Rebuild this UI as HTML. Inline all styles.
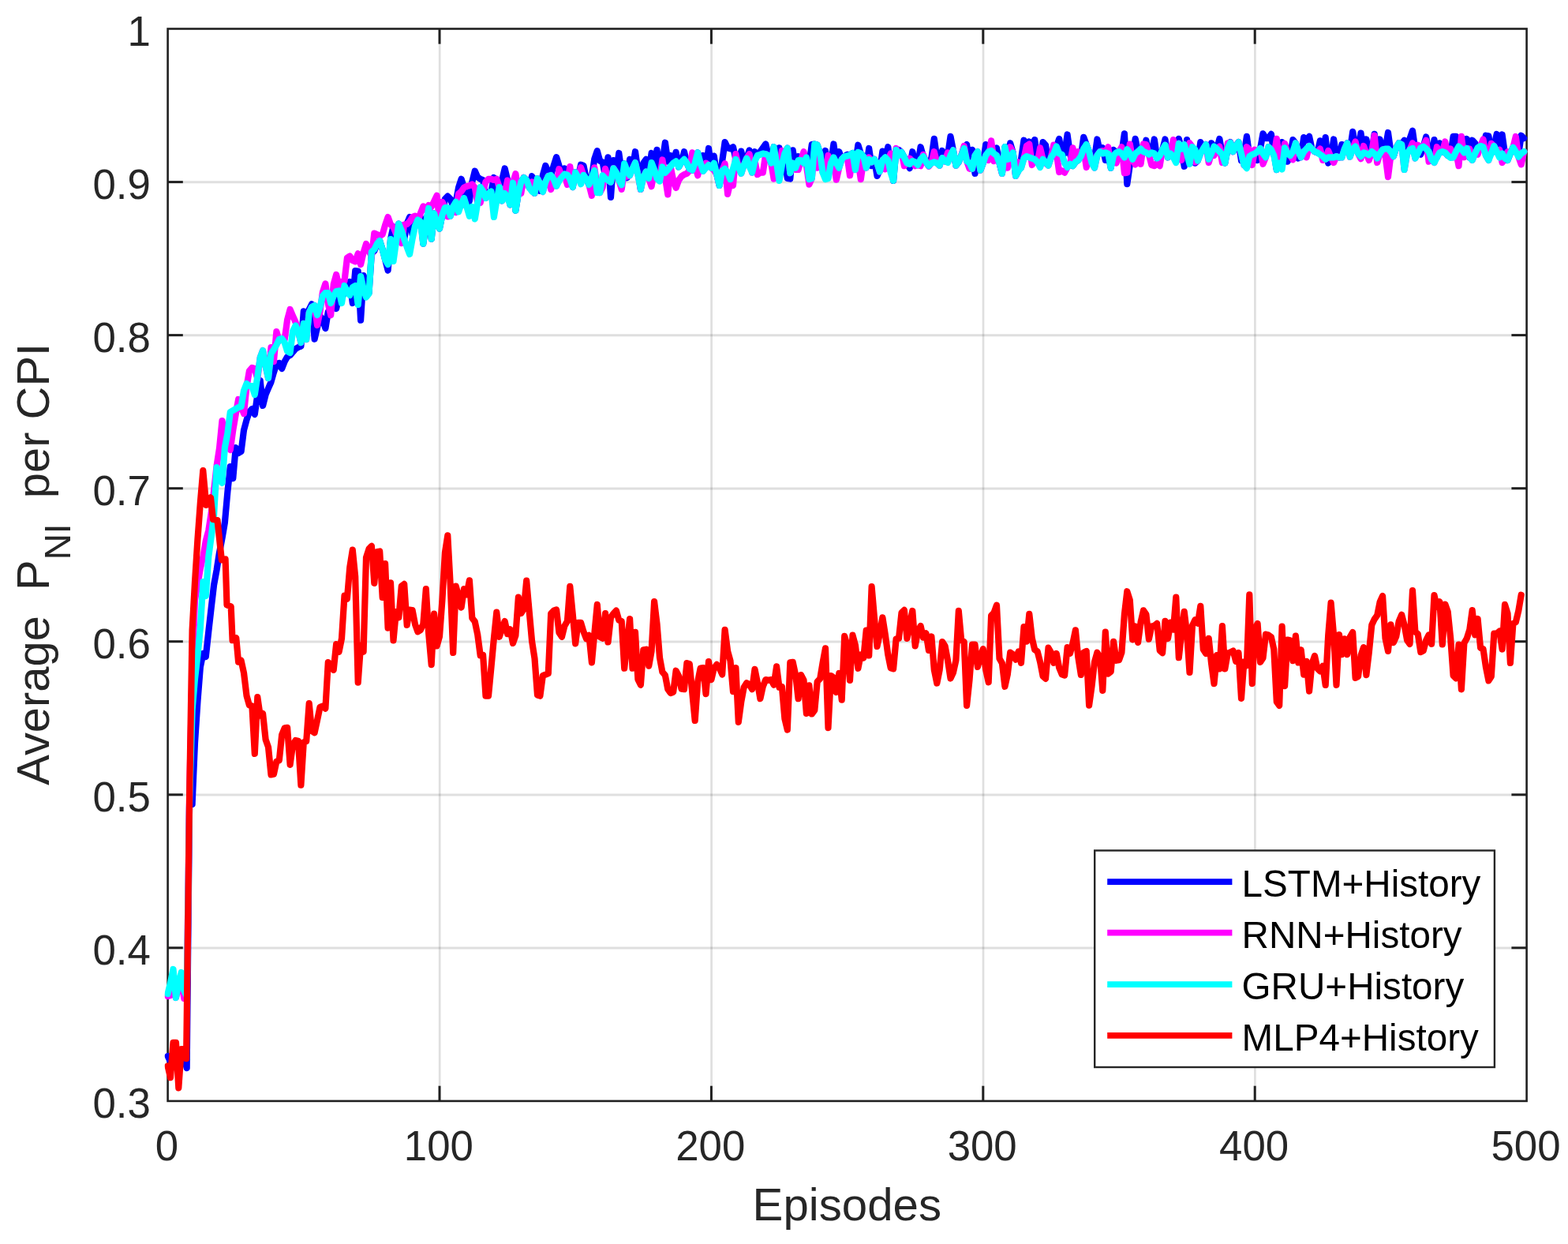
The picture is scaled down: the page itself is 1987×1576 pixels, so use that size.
<!DOCTYPE html>
<html lang="en">
<head>
<meta charset="utf-8">
<title>Average P_NI per CPI vs Episodes</title>
<style>
html,body{margin:0;padding:0;background:#fff;}
body{width:1987px;height:1576px;overflow:hidden;font-family:"Liberation Sans",Arial,Helvetica,sans-serif;}
svg{display:block;}
</style>
</head>
<body>
<svg width="1987" height="1576" viewBox="0 0 1987 1576" font-family="'Liberation Sans', Arial, Helvetica, sans-serif"><defs><clipPath id="clip"><rect x="208.6" y="36.5" width="1730.0" height="1358.4"/></clipPath></defs>
<rect x="0" y="0" width="1987" height="1576" fill="#fff"/>
<g stroke="#262626" stroke-opacity="0.148" stroke-width="2.7"><line x1="557.2" y1="36.5" x2="557.2" y2="1394.9"/><line x1="901.6" y1="36.5" x2="901.6" y2="1394.9"/><line x1="1246.0" y1="36.5" x2="1246.0" y2="1394.9"/><line x1="1590.4" y1="36.5" x2="1590.4" y2="1394.9"/></g>
<g stroke="#262626" stroke-opacity="0.148" stroke-width="3.0"><line x1="212.6" y1="1201.0" x2="1934.6" y2="1201.0"/><line x1="212.6" y1="1007.0" x2="1934.6" y2="1007.0"/><line x1="212.6" y1="812.9" x2="1934.6" y2="812.9"/><line x1="212.6" y1="618.9" x2="1934.6" y2="618.9"/><line x1="212.6" y1="424.8" x2="1934.6" y2="424.8"/><line x1="212.6" y1="230.8" x2="1934.6" y2="230.8"/></g>
<g stroke="#202020" stroke-width="3.0"><line x1="557.0" y1="1394.9" x2="557.0" y2="1375.7"/><line x1="557.0" y1="36.5" x2="557.0" y2="55.7"/><line x1="901.4" y1="1394.9" x2="901.4" y2="1375.7"/><line x1="901.4" y1="36.5" x2="901.4" y2="55.7"/><line x1="1245.8" y1="1394.9" x2="1245.8" y2="1375.7"/><line x1="1245.8" y1="36.5" x2="1245.8" y2="55.7"/><line x1="1590.2" y1="1394.9" x2="1590.2" y2="1375.7"/><line x1="1590.2" y1="36.5" x2="1590.2" y2="55.7"/><line x1="212.6" y1="1200.8" x2="231.8" y2="1200.8"/><line x1="1934.6" y1="1200.8" x2="1915.4" y2="1200.8"/><line x1="212.6" y1="1006.8" x2="231.8" y2="1006.8"/><line x1="1934.6" y1="1006.8" x2="1915.4" y2="1006.8"/><line x1="212.6" y1="812.7" x2="231.8" y2="812.7"/><line x1="1934.6" y1="812.7" x2="1915.4" y2="812.7"/><line x1="212.6" y1="618.7" x2="231.8" y2="618.7"/><line x1="1934.6" y1="618.7" x2="1915.4" y2="618.7"/><line x1="212.6" y1="424.6" x2="231.8" y2="424.6"/><line x1="1934.6" y1="424.6" x2="1915.4" y2="424.6"/><line x1="212.6" y1="230.6" x2="231.8" y2="230.6"/><line x1="1934.6" y1="230.6" x2="1915.4" y2="230.6"/></g>
<rect x="212.6" y="36.5" width="1722.0" height="1358.4" fill="none" stroke="#202020" stroke-width="2.6"/>
<g clip-path="url(#clip)">
<polyline points="212.6,1338.0 216.0,1345.0 219.5,1335.0 222.9,1335.0 226.4,1345.0 229.8,1335.0 233.3,1340.0 236.7,1353.0 240.2,1005.0 243.6,1019.0 247.0,941.0 250.5,888.0 253.9,845.0 257.4,828.0 260.8,832.0 264.3,800.0 267.7,770.0 271.1,741.0 274.6,722.0 278.0,700.0 281.5,682.0 284.9,662.0 288.4,623.0 291.8,591.0 295.3,606.0 298.7,567.0 302.1,574.0 305.6,572.0 309.0,545.0 312.5,532.0 315.9,522.0 319.4,518.0 322.8,525.0 326.3,500.0 329.7,482.0 333.1,514.0 336.6,500.0 340.0,492.0 343.5,484.0 346.9,472.0 350.4,461.0 353.8,460.0 357.2,467.0 360.7,458.0 364.1,452.0 367.6,450.0 371.0,446.0 374.5,442.0 377.9,440.0 381.4,438.7 384.8,394.4 388.2,398.0 391.7,392.0 395.1,385.3 398.6,429.6 402.0,415.0 405.5,400.0 408.9,405.0 412.4,416.0 415.8,395.0 419.2,390.0 422.7,385.0 426.1,391.0 429.6,375.0 433.0,378.0 436.5,370.0 439.9,365.0 443.3,357.0 446.8,384.0 450.2,343.0 453.7,343.5 457.1,405.7 460.6,349.0 464.0,370.7 467.5,371.0 470.9,321.0 474.3,318.0 477.8,309.0 481.2,305.0 484.7,316.0 488.1,329.0 491.6,342.6 495.0,303.0 498.5,287.0 501.9,307.0 505.3,283.6 508.8,292.0 512.2,303.0 515.7,283.0 519.1,275.0 522.6,297.0 526.0,286.3 529.4,275.1 532.9,275.4 536.3,308.6 539.8,284.0 543.2,264.0 546.7,302.7 550.1,270.3 553.6,283.0 557.0,289.5 560.4,272.7 563.9,252.1 567.3,248.6 570.8,252.1 574.2,261.8 577.7,255.8 581.1,237.6 584.6,226.8 588.0,237.6 591.4,261.8 594.9,254.5 598.3,230.4 601.8,216.6 605.2,224.4 608.7,226.8 612.1,228.0 615.5,250.9 619.0,245.0 622.4,242.5 625.9,225.0 629.3,249.0 632.8,237.1 636.2,228.0 639.7,213.5 643.1,228.0 646.5,259.3 650.0,231.7 653.4,266.6 656.9,244.9 660.3,230.4 663.8,225.0 667.2,228.0 670.7,237.6 674.1,223.2 677.5,244.8 681.0,226.2 684.4,241.8 687.9,221.9 691.3,209.9 694.8,218.3 698.2,222.0 701.6,209.9 705.1,199.1 708.5,209.9 712.0,224.4 715.4,213.5 718.9,221.4 722.3,226.8 725.8,237.0 729.2,218.4 732.6,224.4 736.1,208.7 739.5,209.9 743.0,226.8 746.4,233.9 749.9,224.4 753.3,201.4 756.8,191.2 760.2,203.8 763.6,205.5 767.1,223.4 770.5,199.4 774.0,250.0 777.4,203.1 780.9,218.0 784.3,194.0 787.7,218.0 791.2,207.3 794.6,225.3 798.1,201.9 801.5,213.9 805.0,192.2 808.4,216.2 811.9,239.8 815.3,206.6 818.7,201.8 822.2,218.0 825.6,194.0 829.1,213.8 832.5,189.8 836.0,213.8 839.4,204.7 842.9,180.7 846.3,204.7 849.7,197.0 853.2,206.6 856.6,192.8 860.1,211.4 863.5,205.4 867.0,192.2 870.4,206.6 873.8,213.9 877.3,215.6 880.7,206.6 884.2,193.4 887.6,206.6 891.1,197.0 894.5,212.0 898.0,188.0 901.4,212.0 904.8,197.6 908.3,221.1 911.7,234.9 915.2,204.1 918.6,180.1 922.1,187.3 925.5,188.5 929.0,186.2 932.4,201.9 935.8,211.5 939.3,191.6 942.7,209.0 946.2,200.7 949.6,190.4 953.1,214.4 956.5,192.2 959.9,197.0 963.4,192.1 966.8,187.3 970.3,182.5 973.7,197.0 977.2,206.6 980.6,186.2 984.1,206.6 987.5,187.4 990.9,209.0 994.4,201.9 997.8,225.9 1001.3,226.5 1004.7,190.4 1008.2,212.7 1011.6,198.2 1015.1,203.0 1018.5,206.6 1021.9,199.4 1025.4,207.1 1028.8,183.1 1032.3,182.5 1035.7,183.7 1039.2,194.5 1042.6,215.0 1046.0,191.0 1049.5,215.0 1052.9,206.5 1056.4,182.5 1059.8,206.5 1063.3,192.2 1066.7,201.8 1070.2,198.2 1073.6,195.8 1077.0,196.4 1080.5,194.0 1083.9,207.7 1087.4,183.7 1090.8,194.5 1094.3,198.2 1097.7,212.0 1101.2,188.0 1104.6,210.2 1108.0,201.9 1111.5,222.9 1114.9,215.6 1118.4,191.6 1121.8,199.4 1125.3,186.2 1128.7,210.2 1132.1,228.9 1135.6,189.8 1139.0,189.8 1142.5,192.8 1145.9,199.4 1149.4,206.6 1152.8,213.2 1156.3,192.2 1159.7,205.4 1163.1,209.0 1166.6,186.2 1170.0,198.2 1173.5,205.4 1176.9,210.2 1180.4,199.9 1183.8,175.9 1187.3,199.9 1190.7,209.6 1194.1,191.0 1197.6,204.2 1201.0,196.9 1204.5,172.9 1207.9,190.4 1211.4,209.6 1214.8,205.4 1218.2,197.0 1221.7,188.0 1225.1,183.1 1228.6,206.6 1232.0,189.8 1235.5,219.8 1238.9,195.8 1242.4,215.6 1245.8,206.6 1249.2,183.1 1252.7,192.1 1256.1,191.0 1259.6,194.5 1263.0,187.4 1266.5,206.6 1269.9,219.8 1273.4,186.2 1276.8,201.8 1280.2,181.3 1283.7,193.4 1287.1,222.9 1290.6,216.3 1294.0,201.7 1297.5,177.7 1300.9,198.2 1304.3,179.5 1307.8,200.6 1311.2,177.1 1314.7,201.1 1318.1,204.1 1321.6,180.1 1325.0,183.7 1328.5,207.7 1331.9,199.4 1335.3,194.5 1338.8,185.6 1342.2,175.9 1345.7,195.8 1349.1,194.5 1352.6,170.5 1356.0,194.5 1359.5,210.2 1362.9,205.4 1366.3,203.0 1369.8,197.8 1373.2,173.8 1376.7,183.1 1380.1,192.1 1383.6,206.6 1387.0,200.5 1390.4,176.5 1393.9,192.2 1397.3,187.4 1400.8,202.9 1404.2,194.5 1407.7,212.6 1411.1,189.8 1414.6,193.3 1418.0,192.1 1421.4,193.3 1424.9,169.3 1428.3,233.1 1431.8,209.1 1435.2,199.9 1438.7,175.9 1442.1,192.1 1445.6,188.6 1449.0,192.1 1452.4,177.7 1455.9,195.7 1459.3,193.3 1462.8,176.5 1466.2,200.5 1469.7,197.0 1473.1,189.7 1476.5,176.5 1480.0,199.3 1483.4,194.5 1486.9,199.4 1490.3,199.9 1493.8,175.9 1497.2,188.5 1500.7,210.8 1504.1,177.1 1507.5,201.1 1511.0,186.2 1514.4,206.6 1517.9,203.5 1521.3,180.1 1524.8,188.5 1528.2,183.1 1531.7,201.7 1535.1,181.3 1538.5,185.6 1542.0,188.5 1545.4,175.9 1548.9,195.8 1552.3,206.6 1555.8,188.5 1559.2,180.1 1562.6,192.1 1566.1,184.9 1569.5,180.1 1573.0,203.5 1576.4,196.9 1579.9,172.9 1583.3,196.9 1586.8,195.8 1590.2,194.5 1593.6,202.9 1597.1,188.0 1600.5,169.3 1604.0,175.2 1607.4,175.2 1610.9,169.9 1614.3,193.9 1617.8,215.0 1621.2,204.1 1624.6,180.1 1628.1,187.4 1631.5,204.7 1635.0,197.0 1638.4,177.1 1641.9,181.3 1645.3,200.5 1648.7,198.1 1652.2,174.1 1655.6,177.6 1659.1,172.9 1662.5,188.5 1666.0,192.1 1669.4,193.3 1672.9,178.3 1676.3,198.1 1679.7,174.1 1683.2,206.6 1686.6,199.4 1690.1,176.5 1693.5,198.2 1697.0,199.4 1700.4,183.1 1703.9,188.5 1707.3,181.3 1710.7,190.8 1714.2,166.8 1717.6,185.6 1721.1,192.6 1724.5,168.6 1728.0,192.6 1731.4,176.5 1734.8,196.3 1738.3,192.1 1741.7,169.9 1745.2,193.9 1748.6,176.5 1752.1,189.7 1755.5,188.5 1759.0,168.0 1762.4,192.0 1765.8,198.1 1769.3,187.3 1772.7,181.3 1776.2,183.1 1779.6,177.7 1783.1,194.5 1786.5,175.9 1790.0,165.6 1793.4,189.6 1796.8,194.5 1800.3,195.7 1803.7,185.6 1807.2,173.5 1810.6,192.1 1814.1,201.1 1817.5,177.1 1820.9,199.4 1824.4,181.3 1827.8,192.1 1831.3,193.3 1834.7,197.0 1838.2,196.9 1841.6,172.9 1845.1,172.9 1848.5,185.6 1851.9,188.5 1855.4,193.3 1858.8,175.9 1862.3,199.4 1865.7,177.7 1869.2,181.3 1872.6,187.3 1876.1,185.0 1879.5,186.1 1882.9,171.7 1886.4,172.3 1889.8,194.5 1893.3,185.0 1896.7,169.9 1900.2,193.9 1903.6,170.5 1907.0,194.5 1910.5,202.9 1913.9,194.5 1917.4,186.8 1920.8,192.1 1924.3,195.7 1927.7,171.7 1931.2,175.2" fill="none" stroke="#0000ff" stroke-width="8.2" stroke-linejoin="round" stroke-linecap="round"/>
<polyline points="212.6,1262.0 216.0,1261.0 219.5,1240.0 222.9,1264.0 226.4,1250.0 229.8,1240.0 233.3,1265.0 236.7,1262.0 240.2,1000.0 243.6,850.0 247.0,760.0 250.5,740.0 253.9,720.0 257.4,705.0 260.8,685.0 264.3,672.0 267.7,650.0 271.1,622.0 274.6,590.0 278.0,568.0 281.5,533.0 284.9,550.0 288.4,560.0 291.8,570.0 295.3,545.0 298.7,525.0 302.1,506.0 305.6,515.0 309.0,524.0 312.5,490.0 315.9,470.0 319.4,466.0 322.8,467.0 326.3,480.0 329.7,453.0 333.1,444.0 336.6,464.0 340.0,479.0 343.5,440.0 346.9,458.0 350.4,420.0 353.8,432.0 357.2,429.0 360.7,430.0 364.1,405.0 367.6,392.0 371.0,400.0 374.5,408.0 377.9,420.0 381.4,434.0 384.8,410.0 388.2,430.0 391.7,396.0 395.1,389.0 398.6,387.0 402.0,412.0 405.5,395.0 408.9,370.0 412.4,359.4 415.8,385.0 419.2,399.3 422.7,360.0 426.1,348.0 429.6,362.0 433.0,357.0 436.5,356.0 439.9,326.7 443.3,324.5 446.8,330.0 450.2,331.3 453.7,321.3 457.1,335.0 460.6,320.0 464.0,309.0 467.5,318.0 470.9,325.0 474.3,295.5 477.8,297.0 481.2,299.0 484.7,297.0 488.1,285.0 491.6,275.0 495.0,284.4 498.5,288.0 501.9,296.0 505.3,300.0 508.8,308.0 512.2,284.5 515.7,284.0 519.1,280.8 522.6,275.0 526.0,273.6 529.4,280.0 532.9,270.0 536.3,261.4 539.8,266.0 543.2,260.0 546.7,262.0 550.1,255.0 553.6,247.8 557.0,279.8 560.4,255.8 563.9,263.0 567.3,274.4 570.8,273.8 574.2,261.8 577.7,269.0 581.1,245.6 584.6,242.5 588.0,237.6 591.4,235.9 594.9,235.2 598.3,233.5 601.8,237.6 605.2,257.0 608.7,256.9 612.1,242.5 615.5,230.4 619.0,226.8 622.4,226.8 625.9,228.0 629.3,226.8 632.8,237.1 636.2,254.5 639.7,245.0 643.1,228.6 646.5,252.6 650.0,231.7 653.4,220.2 656.9,244.9 660.3,244.8 663.8,225.0 667.2,228.0 670.7,237.6 674.1,230.4 677.5,244.8 681.0,226.2 684.4,232.8 687.9,243.0 691.3,230.4 694.8,223.1 698.2,240.0 701.6,226.8 705.1,235.8 708.5,214.2 712.0,224.4 715.4,220.7 718.9,233.9 722.3,211.1 725.8,235.1 729.2,218.4 732.6,224.4 736.1,212.3 739.5,222.0 743.0,226.8 746.4,233.9 749.9,247.8 753.3,212.3 756.8,236.3 760.2,244.1 763.6,237.4 767.1,213.9 770.5,228.4 774.0,230.7 777.4,213.3 780.9,218.7 784.3,228.4 787.7,239.8 791.2,215.8 794.6,223.5 798.1,222.3 801.5,213.9 805.0,206.1 808.4,221.1 811.9,239.8 815.3,224.7 818.7,217.6 822.2,225.9 825.6,236.2 829.1,215.1 832.5,226.0 836.0,226.5 839.4,202.5 842.9,224.7 846.3,246.4 849.7,211.4 853.2,228.4 856.6,238.0 860.1,228.4 863.5,223.5 867.0,221.1 870.4,219.9 873.8,216.3 877.3,193.4 880.7,209.0 884.2,222.3 887.6,206.6 891.1,216.8 894.5,206.7 898.0,209.1 901.4,212.6 904.8,215.6 908.3,221.1 911.7,234.9 915.2,216.3 918.6,207.3 922.1,245.8 925.5,230.8 929.0,234.9 932.4,195.2 935.8,211.5 939.3,219.8 942.7,209.0 946.2,200.7 949.6,195.2 953.1,218.6 956.5,204.2 959.9,221.1 963.4,218.7 966.8,218.6 970.3,195.2 973.7,197.0 977.2,206.6 980.6,226.5 984.1,206.6 987.5,215.0 990.9,191.0 994.4,194.5 997.8,187.4 1001.3,219.2 1004.7,206.6 1008.2,215.0 1011.6,215.0 1015.1,203.0 1018.5,192.2 1021.9,209.7 1025.4,233.7 1028.8,226.0 1032.3,188.6 1035.7,212.6 1039.2,194.5 1042.6,218.7 1046.0,221.0 1049.5,197.0 1052.9,206.6 1056.4,203.7 1059.8,227.7 1063.3,212.6 1066.7,201.8 1070.2,198.2 1073.6,198.3 1077.0,222.3 1080.5,198.3 1083.9,215.0 1087.4,203.1 1090.8,227.1 1094.3,203.1 1097.7,212.6 1101.2,199.4 1104.6,205.4 1108.0,201.9 1111.5,206.6 1114.9,217.4 1118.4,203.0 1121.8,214.4 1125.3,203.0 1128.7,194.6 1132.1,212.0 1135.6,188.0 1139.0,197.0 1142.5,192.8 1145.9,210.2 1149.4,206.6 1152.8,200.7 1156.3,204.2 1159.7,210.2 1163.1,209.0 1166.6,210.2 1170.0,195.8 1173.5,205.4 1176.9,210.8 1180.4,206.6 1183.8,192.2 1187.3,206.6 1190.7,209.6 1194.1,200.1 1197.6,204.2 1201.0,193.4 1204.5,197.0 1207.9,190.4 1211.4,209.6 1214.8,205.4 1218.2,197.0 1221.7,185.0 1225.1,204.2 1228.6,213.8 1232.0,213.8 1235.5,197.0 1238.9,192.2 1242.4,215.6 1245.8,206.6 1249.2,197.0 1252.7,202.9 1256.1,178.3 1259.6,204.1 1263.0,197.0 1266.5,206.6 1269.9,219.8 1273.4,188.6 1276.8,212.6 1280.2,186.2 1283.7,193.4 1287.1,222.9 1290.6,205.5 1294.0,212.7 1297.5,200.6 1300.9,184.9 1304.3,182.5 1307.8,209.0 1311.2,201.8 1314.7,205.4 1318.1,187.4 1321.6,201.8 1325.0,206.6 1328.5,209.6 1331.9,199.4 1335.3,183.7 1338.8,194.0 1342.2,218.0 1345.7,216.3 1349.1,218.6 1352.6,212.0 1356.0,207.8 1359.5,187.4 1362.9,205.4 1366.3,192.2 1369.8,198.2 1373.2,188.5 1376.7,212.0 1380.1,192.1 1383.6,206.6 1387.0,212.6 1390.4,197.0 1393.9,192.2 1397.3,191.0 1400.8,193.3 1404.2,186.2 1407.7,210.2 1411.1,197.0 1414.6,206.6 1418.0,192.1 1421.4,186.2 1424.9,219.2 1428.3,218.6 1431.8,182.5 1435.2,201.8 1438.7,208.4 1442.1,192.1 1445.6,207.8 1449.0,182.5 1452.4,183.1 1455.9,195.7 1459.3,209.0 1462.8,210.2 1466.2,206.6 1469.7,210.2 1473.1,189.7 1476.5,183.7 1480.0,199.3 1483.4,194.5 1486.9,177.1 1490.3,201.1 1493.8,181.9 1497.2,202.9 1500.7,183.1 1504.1,194.5 1507.5,181.3 1511.0,186.2 1514.4,205.4 1517.9,203.5 1521.3,194.5 1524.8,188.5 1528.2,183.1 1531.7,206.0 1535.1,194.5 1538.5,196.9 1542.0,188.5 1545.4,185.6 1548.9,206.0 1552.3,205.3 1555.8,181.3 1559.2,180.7 1562.6,192.1 1566.1,184.9 1569.5,180.1 1573.0,194.5 1576.4,209.0 1579.9,186.2 1583.3,189.7 1586.8,209.0 1590.2,189.7 1593.6,192.1 1597.1,188.0 1600.5,207.8 1604.0,199.3 1607.4,186.2 1610.9,189.7 1614.3,197.0 1617.8,175.9 1621.2,199.9 1624.6,205.9 1628.1,181.9 1631.5,194.5 1635.0,197.0 1638.4,202.3 1641.9,181.3 1645.3,192.1 1648.7,199.3 1652.2,192.1 1655.6,199.3 1659.1,185.0 1662.5,188.5 1666.0,192.1 1669.4,193.3 1672.9,188.6 1676.3,202.9 1679.7,201.7 1683.2,191.0 1686.6,199.4 1690.1,206.0 1693.5,198.2 1697.0,199.4 1700.4,199.4 1703.9,188.5 1707.3,181.3 1710.7,198.7 1714.2,188.5 1717.6,179.5 1721.1,194.5 1724.5,201.1 1728.0,185.0 1731.4,194.5 1734.8,202.9 1738.3,192.1 1741.7,171.7 1745.2,206.0 1748.6,194.5 1752.1,189.7 1755.5,197.0 1759.0,224.1 1762.4,197.0 1765.8,198.1 1769.3,187.3 1772.7,181.3 1776.2,183.1 1779.6,215.0 1783.1,194.5 1786.5,189.7 1790.0,181.3 1793.4,200.5 1796.8,183.7 1800.3,187.3 1803.7,185.6 1807.2,177.7 1810.6,204.7 1814.1,201.8 1817.5,206.0 1820.9,186.2 1824.4,193.3 1827.8,192.1 1831.3,179.5 1834.7,197.0 1838.2,188.6 1841.6,199.4 1845.1,192.1 1848.5,210.2 1851.9,172.9 1855.4,199.3 1858.8,188.0 1862.3,188.6 1865.7,202.9 1869.2,194.5 1872.6,195.7 1876.1,185.0 1879.5,176.5 1882.9,197.0 1886.4,202.9 1889.8,181.9 1893.3,185.0 1896.7,192.1 1900.2,189.8 1903.6,206.0 1907.0,200.6 1910.5,192.2 1913.9,194.5 1917.4,186.8 1920.8,172.9 1924.3,198.7 1927.7,208.4 1931.2,192.1" fill="none" stroke="#ff00ff" stroke-width="8.2" stroke-linejoin="round" stroke-linecap="round"/>
<polyline points="212.6,1259.0 216.0,1245.0 219.5,1228.0 222.9,1264.0 226.4,1245.0 229.8,1232.0 233.3,1255.0 236.7,1262.0 240.2,1010.0 243.6,900.0 247.0,860.0 250.5,830.0 253.9,795.0 257.4,737.0 260.8,755.0 264.3,705.0 267.7,680.0 271.1,652.0 274.6,592.0 278.0,602.0 281.5,612.0 284.9,567.0 288.4,549.0 291.8,522.0 295.3,520.0 298.7,518.0 302.1,516.0 305.6,515.0 309.0,495.0 312.5,486.0 315.9,489.0 319.4,489.0 322.8,500.0 326.3,477.0 329.7,453.0 333.1,444.0 336.6,464.0 340.0,479.0 343.5,448.0 346.9,443.0 350.4,437.0 353.8,430.0 357.2,429.0 360.7,434.0 364.1,445.0 367.6,447.0 371.0,420.0 374.5,412.5 377.9,420.0 381.4,434.0 384.8,410.0 388.2,430.0 391.7,396.0 395.1,389.0 398.6,387.0 402.0,399.0 405.5,389.0 408.9,375.0 412.4,371.0 415.8,371.0 419.2,384.0 422.7,375.0 426.1,369.0 429.6,368.5 433.0,384.0 436.5,362.0 439.9,369.0 443.3,374.0 446.8,364.0 450.2,362.0 453.7,386.0 457.1,350.0 460.6,366.0 464.0,376.6 467.5,372.0 470.9,319.0 474.3,316.0 477.8,309.0 481.2,305.0 484.7,316.0 488.1,329.0 491.6,335.0 495.0,303.0 498.5,331.0 501.9,307.0 505.3,283.6 508.8,292.0 512.2,303.0 515.7,313.0 519.1,322.0 522.6,302.6 526.0,286.3 529.4,278.6 532.9,281.0 536.3,308.6 539.8,284.0 543.2,264.0 546.7,302.7 550.1,270.3 553.6,283.0 557.0,289.5 560.4,272.7 563.9,263.0 567.3,263.1 570.8,273.8 574.2,261.8 577.7,255.8 581.1,268.4 584.6,258.2 588.0,251.0 591.4,261.8 594.9,273.8 598.3,261.9 601.8,277.4 605.2,257.0 608.7,237.1 612.1,242.5 615.5,250.9 619.0,245.0 622.4,242.5 625.9,275.0 629.3,254.5 632.8,237.1 636.2,254.5 639.7,245.0 643.1,250.9 646.5,259.3 650.0,231.7 653.4,266.6 656.9,244.9 660.3,230.4 663.8,225.0 667.2,228.0 670.7,237.6 674.1,242.5 677.5,244.8 681.0,226.2 684.4,232.8 687.9,243.0 691.3,230.4 694.8,223.1 698.2,222.0 701.6,226.8 705.1,235.8 708.5,229.2 712.0,224.4 715.4,220.7 718.9,221.4 722.3,226.8 725.8,237.0 729.2,218.4 732.6,224.4 736.1,233.3 739.5,222.0 743.0,226.8 746.4,233.9 749.9,224.4 753.3,216.0 756.8,244.2 760.2,244.1 763.6,222.4 767.1,226.0 770.5,228.4 774.0,230.7 777.4,213.3 780.9,218.7 784.3,228.4 787.7,234.3 791.2,207.3 794.6,216.3 798.1,222.3 801.5,213.9 805.0,206.1 808.4,221.1 811.9,239.8 815.3,224.7 818.7,217.6 822.2,225.9 825.6,206.1 829.1,215.1 832.5,226.0 836.0,229.5 839.4,211.5 842.9,218.7 846.3,215.1 849.7,210.9 853.2,206.6 856.6,204.3 860.1,211.4 863.5,205.4 867.0,201.9 870.4,206.6 873.8,213.9 877.3,215.6 880.7,206.6 884.2,193.4 887.6,206.6 891.1,216.8 894.5,212.7 898.0,209.1 901.4,212.6 904.8,206.7 908.3,221.1 911.7,234.9 915.2,216.3 918.6,213.9 922.1,218.7 925.5,227.1 929.0,213.9 932.4,201.9 935.8,211.5 939.3,219.8 942.7,209.0 946.2,200.7 949.6,210.3 953.1,218.6 956.5,204.2 959.9,197.0 963.4,195.8 966.8,194.5 970.3,195.2 973.7,197.0 977.2,206.6 980.6,186.2 984.1,206.6 987.5,228.9 990.9,209.0 994.4,194.5 997.8,187.4 1001.3,219.2 1004.7,206.6 1008.2,212.7 1011.6,203.1 1015.1,203.0 1018.5,206.6 1021.9,199.4 1025.4,227.1 1028.8,226.0 1032.3,182.5 1035.7,183.7 1039.2,194.5 1042.6,218.7 1046.0,227.1 1049.5,226.0 1052.9,206.6 1056.4,199.4 1059.8,206.6 1063.3,212.6 1066.7,201.8 1070.2,198.2 1073.6,197.6 1077.0,196.4 1080.5,194.0 1083.9,215.0 1087.4,192.8 1090.8,194.5 1094.3,198.2 1097.7,212.6 1101.2,201.9 1104.6,205.4 1108.0,201.9 1111.5,206.6 1114.9,217.4 1118.4,203.0 1121.8,199.4 1125.3,203.0 1128.7,218.7 1132.1,228.9 1135.6,189.8 1139.0,197.0 1142.5,192.8 1145.9,199.4 1149.4,206.6 1152.8,207.8 1156.3,204.2 1159.7,205.4 1163.1,209.0 1166.6,201.8 1170.0,198.2 1173.5,205.4 1176.9,210.2 1180.4,206.6 1183.8,205.4 1187.3,206.6 1190.7,209.6 1194.1,200.1 1197.6,204.2 1201.0,206.0 1204.5,197.0 1207.9,190.4 1211.4,209.6 1214.8,205.4 1218.2,197.0 1221.7,188.0 1225.1,204.2 1228.6,206.6 1232.0,213.8 1235.5,197.0 1238.9,192.2 1242.4,215.6 1245.8,206.6 1249.2,197.0 1252.7,192.1 1256.1,191.0 1259.6,194.5 1263.0,197.0 1266.5,206.6 1269.9,219.8 1273.4,186.2 1276.8,201.8 1280.2,200.6 1283.7,193.4 1287.1,222.9 1290.6,216.3 1294.0,212.7 1297.5,200.6 1300.9,198.2 1304.3,199.4 1307.8,200.6 1311.2,201.8 1314.7,205.4 1318.1,212.0 1321.6,201.8 1325.0,205.4 1328.5,209.6 1331.9,199.4 1335.3,194.5 1338.8,185.6 1342.2,194.5 1345.7,195.8 1349.1,206.6 1352.6,212.0 1356.0,207.8 1359.5,210.2 1362.9,205.4 1366.3,203.0 1369.8,198.2 1373.2,188.5 1376.7,183.1 1380.1,192.1 1383.6,206.6 1387.0,212.6 1390.4,197.0 1393.9,192.2 1397.3,194.5 1400.8,193.3 1404.2,194.5 1407.7,212.6 1411.1,197.0 1414.6,193.3 1418.0,192.1 1421.4,194.5 1424.9,199.4 1428.3,189.2 1431.8,194.5 1435.2,201.8 1438.7,194.5 1442.1,192.1 1445.6,188.6 1449.0,192.1 1452.4,193.3 1455.9,195.7 1459.3,193.3 1462.8,194.5 1466.2,200.5 1469.7,197.0 1473.1,189.7 1476.5,183.7 1480.0,199.3 1483.4,194.5 1486.9,199.4 1490.3,206.0 1493.8,181.9 1497.2,188.5 1500.7,183.1 1504.1,194.5 1507.5,207.8 1511.0,186.2 1514.4,189.7 1517.9,203.5 1521.3,194.5 1524.8,188.5 1528.2,183.1 1531.7,201.7 1535.1,194.5 1538.5,185.6 1542.0,188.5 1545.4,192.1 1548.9,195.8 1552.3,206.6 1555.8,188.5 1559.2,180.7 1562.6,192.1 1566.1,184.9 1569.5,180.1 1573.0,194.5 1576.4,209.0 1579.9,213.2 1583.3,198.2 1586.8,195.8 1590.2,194.5 1593.6,192.1 1597.1,188.0 1600.5,194.5 1604.0,199.3 1607.4,186.2 1610.9,189.7 1614.3,197.0 1617.8,215.0 1621.2,206.6 1624.6,214.4 1628.1,187.4 1631.5,194.5 1635.0,197.0 1638.4,192.1 1641.9,181.3 1645.3,192.1 1648.7,199.3 1652.2,192.1 1655.6,188.5 1659.1,185.0 1662.5,188.5 1666.0,192.1 1669.4,193.3 1672.9,195.8 1676.3,198.2 1679.7,201.7 1683.2,199.4 1686.6,199.4 1690.1,199.4 1693.5,198.2 1697.0,199.4 1700.4,199.4 1703.9,188.5 1707.3,181.3 1710.7,198.7 1714.2,188.5 1717.6,185.6 1721.1,194.5 1724.5,198.1 1728.0,193.3 1731.4,194.5 1734.8,196.3 1738.3,192.1 1741.7,194.5 1745.2,200.5 1748.6,194.5 1752.1,189.7 1755.5,188.5 1759.0,188.5 1762.4,192.1 1765.8,198.1 1769.3,187.3 1772.7,181.3 1776.2,183.1 1779.6,215.0 1783.1,194.5 1786.5,189.7 1790.0,188.0 1793.4,200.5 1796.8,194.5 1800.3,187.3 1803.7,185.6 1807.2,188.5 1810.6,192.1 1814.1,201.8 1817.5,206.0 1820.9,199.4 1824.4,193.3 1827.8,192.1 1831.3,193.3 1834.7,197.0 1838.2,199.9 1841.6,199.4 1845.1,192.1 1848.5,185.6 1851.9,188.5 1855.4,193.3 1858.8,188.0 1862.3,199.4 1865.7,202.9 1869.2,194.5 1872.6,187.3 1876.1,185.0 1879.5,186.1 1882.9,197.0 1886.4,202.9 1889.8,194.5 1893.3,185.0 1896.7,192.1 1900.2,199.4 1903.6,194.6 1907.0,200.6 1910.5,202.9 1913.9,194.5 1917.4,186.8 1920.8,192.1 1924.3,198.7 1927.7,194.5 1931.2,192.1" fill="none" stroke="#00ffff" stroke-width="8.2" stroke-linejoin="round" stroke-linecap="round"/>
<polyline points="212.6,1350.6 216.0,1365.2 219.5,1320.9 223.0,1320.9 226.3,1378.3 229.8,1329.2 233.3,1329.2 236.1,1341.1 240.2,1000.0 243.6,797.9 247.0,737.0 250.4,683.7 253.9,636.1 257.3,596.2 261.3,639.9 267.0,630.4 270.0,658.0 275.5,659.0 280.9,709.4 285.6,708.4 287.5,766.5 292.7,768.4 294.6,811.2 299.3,808.3 302.1,838.7 305.6,836.9 309.0,852.3 312.5,881.3 315.9,893.3 319.4,894.5 322.8,954.9 326.3,883.1 329.7,906.6 333.1,904.2 336.6,936.8 340.0,946.5 343.5,981.5 346.9,980.8 350.4,964.6 353.8,963.4 357.2,930.8 360.7,922.3 364.1,921.8 367.6,968.8 371.0,944.1 374.5,938.0 377.9,938.7 381.4,994.7 384.8,940.4 388.2,939.2 391.7,891.0 395.1,926.0 398.6,928.3 402.0,912.7 405.5,895.8 408.9,894.5 412.4,897.6 415.8,839.1 419.2,841.5 422.7,848.8 426.1,816.2 429.6,825.8 433.0,808.9 436.5,754.5 439.9,758.7 443.3,718.3 446.8,696.6 450.2,730.4 453.7,864.6 457.1,817.4 460.6,825.8 464.0,706.2 467.5,695.4 470.9,691.8 474.3,738.8 477.8,699.0 481.2,698.5 484.7,756.9 488.1,714.2 491.6,795.6 495.0,738.3 498.5,811.3 501.9,775.1 505.3,782.3 508.8,742.5 512.2,739.9 515.7,791.9 519.1,772.7 522.6,773.0 526.0,790.8 529.4,800.4 532.9,798.0 536.3,790.8 539.8,746.2 543.2,802.9 546.7,842.1 550.1,777.6 553.6,818.5 557.0,806.5 560.4,760.6 563.9,700.2 567.3,678.3 570.8,742.5 574.2,827.0 577.7,742.5 581.1,754.5 584.6,769.6 588.0,746.2 591.4,753.3 594.9,735.3 598.3,783.0 601.8,787.6 605.2,803.9 608.7,830.4 612.1,829.9 615.5,881.7 619.0,881.7 622.4,846.1 625.9,808.7 629.3,775.6 632.8,806.8 636.2,796.6 639.7,787.0 643.1,803.2 646.5,797.3 650.0,814.9 653.4,805.1 656.9,756.6 660.3,777.0 663.8,771.3 667.2,735.7 670.7,774.9 674.1,812.3 677.5,834.1 681.0,880.6 684.4,881.7 687.9,855.8 691.3,854.7 694.8,853.3 698.2,777.3 701.6,773.7 705.1,772.5 708.5,801.5 712.0,806.8 715.4,793.0 718.9,787.0 722.3,742.9 725.8,778.5 729.2,815.3 732.6,788.8 736.1,788.8 739.5,800.3 743.0,809.2 746.4,804.9 749.9,839.4 753.3,802.7 756.8,765.9 760.2,806.8 763.6,808.7 767.1,777.1 770.5,813.5 774.0,782.1 777.4,777.3 780.9,773.7 784.3,785.7 787.7,787.0 791.2,846.7 794.6,814.7 798.1,784.0 801.5,846.7 805.0,800.9 808.4,860.6 811.9,867.8 815.3,823.2 818.7,822.7 822.2,843.7 825.6,824.9 829.1,762.1 832.5,789.9 836.0,833.3 839.4,851.4 842.9,855.4 846.3,873.2 849.7,878.0 853.2,876.8 856.6,849.7 860.1,856.3 863.5,872.6 867.0,873.2 870.4,840.1 873.8,841.2 877.3,878.0 880.7,913.0 884.2,863.5 887.6,846.6 891.1,846.1 894.5,879.2 898.0,838.2 901.4,861.1 904.8,846.6 908.3,841.9 911.7,846.6 915.2,854.4 918.6,797.8 922.1,824.9 925.5,837.0 929.0,876.2 932.4,846.1 935.8,914.8 939.3,888.9 942.7,870.8 946.2,865.3 949.6,867.2 953.1,873.1 956.5,847.9 959.9,864.7 963.4,885.2 966.8,869.6 970.3,861.1 973.7,861.8 977.2,861.1 980.6,867.7 984.1,844.3 987.5,870.7 990.9,870.2 994.4,910.6 997.8,924.5 1001.3,839.4 1004.7,838.8 1008.2,855.1 1011.6,885.2 1015.1,855.1 1018.5,861.7 1021.9,903.9 1025.4,868.4 1028.8,904.5 1032.3,899.8 1035.7,863.5 1039.2,859.9 1042.6,839.4 1046.0,821.3 1049.5,922.1 1052.9,856.0 1056.4,858.4 1059.8,877.0 1063.3,853.0 1066.7,886.7 1070.2,805.9 1073.6,817.3 1077.0,861.9 1080.5,804.7 1083.9,817.3 1087.4,846.8 1090.8,829.4 1094.3,833.5 1097.7,798.6 1101.2,830.5 1104.6,743.1 1108.0,782.3 1111.5,819.0 1114.9,802.8 1118.4,782.3 1121.8,804.0 1125.3,829.4 1128.7,846.3 1132.1,847.4 1135.6,809.5 1139.0,808.8 1142.5,776.2 1145.9,772.9 1149.4,808.8 1152.8,790.7 1156.3,773.9 1159.7,818.4 1163.1,800.4 1166.6,793.0 1170.0,807.6 1173.5,802.3 1176.9,823.9 1180.4,806.5 1183.8,848.7 1187.3,865.6 1190.7,848.7 1194.1,813.1 1197.6,818.5 1201.0,836.6 1204.5,859.5 1207.9,852.3 1211.4,836.6 1214.8,773.9 1218.2,811.2 1221.7,813.1 1225.1,893.9 1228.6,860.8 1232.0,816.7 1235.5,816.7 1238.9,845.0 1242.4,831.8 1245.8,822.2 1249.2,848.7 1252.7,864.3 1256.1,779.9 1259.6,776.2 1263.0,766.6 1266.5,834.2 1269.9,840.3 1273.4,869.8 1276.8,854.7 1280.2,826.6 1283.7,829.1 1287.1,835.6 1290.6,825.5 1294.0,839.8 1297.5,794.1 1300.9,812.7 1304.3,777.8 1307.8,808.5 1311.2,823.0 1314.7,825.4 1318.1,838.7 1321.6,856.8 1325.0,859.8 1328.5,820.7 1331.9,826.6 1335.3,839.8 1338.8,827.9 1342.2,846.0 1345.7,854.4 1349.1,855.6 1352.6,820.1 1356.0,827.8 1359.5,814.5 1362.9,798.3 1366.3,832.7 1369.8,854.9 1373.2,826.6 1376.7,824.9 1380.1,893.6 1383.6,868.9 1387.0,838.7 1390.4,826.7 1393.9,832.7 1397.3,874.9 1400.8,800.7 1404.2,853.7 1407.7,850.8 1411.1,812.8 1414.6,836.8 1418.0,836.3 1421.4,826.6 1424.9,778.3 1428.3,749.2 1431.8,760.2 1435.2,810.3 1438.7,793.5 1442.1,813.9 1445.6,788.0 1449.0,773.3 1452.4,778.3 1455.9,809.7 1459.3,793.5 1462.8,792.7 1466.2,789.9 1469.7,824.2 1473.1,827.2 1476.5,786.8 1480.0,809.0 1483.4,788.6 1486.9,797.6 1490.3,756.6 1493.8,833.2 1497.2,802.5 1500.7,774.8 1504.1,802.5 1507.5,851.9 1511.0,792.5 1514.4,785.3 1517.9,789.7 1521.3,767.8 1524.8,822.7 1528.2,828.0 1531.7,808.8 1535.1,840.8 1538.5,866.1 1542.0,830.0 1545.4,847.4 1548.9,793.1 1552.3,847.4 1555.8,827.5 1559.2,826.3 1562.6,824.5 1566.1,837.7 1569.5,827.0 1573.0,884.8 1576.4,838.4 1579.9,843.1 1583.3,753.3 1586.8,866.1 1590.2,797.3 1593.6,789.9 1597.1,838.9 1600.5,833.5 1604.0,803.6 1607.4,804.5 1610.9,807.0 1614.3,822.7 1617.8,889.1 1621.2,893.9 1624.6,793.5 1628.1,869.1 1631.5,810.6 1635.0,811.3 1638.4,837.1 1641.9,805.6 1645.3,839.5 1648.7,823.3 1652.2,854.6 1655.6,837.8 1659.1,875.7 1662.5,840.8 1666.0,830.9 1669.4,846.8 1672.9,850.4 1676.3,843.9 1679.7,867.9 1683.2,804.5 1686.6,763.5 1690.1,804.5 1693.5,867.9 1697.0,804.0 1700.4,829.2 1703.9,809.4 1707.3,829.2 1710.7,807.0 1714.2,801.0 1717.6,858.8 1721.1,857.0 1724.5,830.4 1728.0,820.2 1731.4,855.1 1734.8,826.8 1738.3,791.8 1741.7,784.5 1745.2,779.7 1748.6,762.8 1752.1,755.0 1755.5,808.7 1759.0,824.9 1762.4,791.3 1765.8,814.1 1769.3,806.3 1772.7,787.0 1776.2,778.8 1779.6,791.8 1783.1,811.1 1786.5,815.9 1790.0,748.1 1793.4,800.2 1796.8,803.3 1800.3,826.2 1803.7,824.4 1807.2,811.1 1810.6,804.5 1814.1,815.9 1817.5,754.2 1820.9,768.8 1824.4,762.3 1827.8,816.5 1831.3,765.5 1834.7,774.9 1838.2,808.7 1841.6,855.8 1845.1,859.4 1848.5,816.6 1851.9,873.3 1855.4,814.7 1858.8,808.7 1862.3,797.8 1865.7,773.1 1869.2,804.4 1872.6,784.0 1876.1,820.8 1879.5,822.0 1882.9,844.9 1886.4,862.4 1889.8,857.0 1893.3,802.7 1896.7,802.6 1900.2,799.7 1903.6,822.5 1907.0,765.9 1910.5,777.3 1913.9,840.0 1917.4,790.1 1920.8,788.2 1924.3,773.7 1927.7,753.7" fill="none" stroke="#ff0000" stroke-width="8.2" stroke-linejoin="round" stroke-linecap="round"/>
</g>
<g font-size="52.8" fill="#262626"><text x="211.5" y="1469.7" text-anchor="middle">0</text><text x="555.9" y="1469.7" text-anchor="middle">100</text><text x="900.3" y="1469.7" text-anchor="middle">200</text><text x="1244.7" y="1469.7" text-anchor="middle">300</text><text x="1589.1" y="1469.7" text-anchor="middle">400</text><text x="1933.5" y="1469.7" text-anchor="middle">500</text><text x="190.8" y="1416.1" text-anchor="end">0.3</text><text x="190.8" y="1222.0" text-anchor="end">0.4</text><text x="190.8" y="1028.0" text-anchor="end">0.5</text><text x="190.8" y="833.9" text-anchor="end">0.6</text><text x="190.8" y="639.9" text-anchor="end">0.7</text><text x="190.8" y="445.8" text-anchor="end">0.8</text><text x="190.8" y="251.8" text-anchor="end">0.9</text><text x="190.8" y="57.7" text-anchor="end">1</text></g>
<text x="1073.3" y="1545.7" text-anchor="middle" font-size="58.2" fill="#262626">Episodes</text>
<text transform="translate(62.0,714.8) rotate(-90)" text-anchor="middle" font-size="57.9" fill="#262626" xml:space="preserve" style="white-space:pre">Average  P<tspan font-size="46" dy="27">NI</tspan><tspan dy="-27">  per CPI</tspan></text>
<rect x="1387.2" y="1077.5" width="506.7" height="274.5" fill="#fff" stroke="#262626" stroke-width="2.4"/>
<line x1="1403.2" y1="1117.1" x2="1561.4" y2="1117.1" stroke="#0000ff" stroke-width="7.8"/>
<text x="1573.6" y="1135.9" font-size="47.6" fill="#000">LSTM+History</text>
<line x1="1403.2" y1="1181.7" x2="1561.4" y2="1181.7" stroke="#ff00ff" stroke-width="7.8"/>
<text x="1573.6" y="1200.5" font-size="47.6" fill="#000">RNN+History</text>
<line x1="1403.2" y1="1247.2" x2="1561.4" y2="1247.2" stroke="#00ffff" stroke-width="7.8"/>
<text x="1573.6" y="1266.0" font-size="47.6" fill="#000">GRU+History</text>
<line x1="1403.2" y1="1311.8" x2="1561.4" y2="1311.8" stroke="#ff0000" stroke-width="7.8"/>
<text x="1573.6" y="1330.6" font-size="47.6" fill="#000">MLP4+History</text>
</svg>
</body>
</html>
